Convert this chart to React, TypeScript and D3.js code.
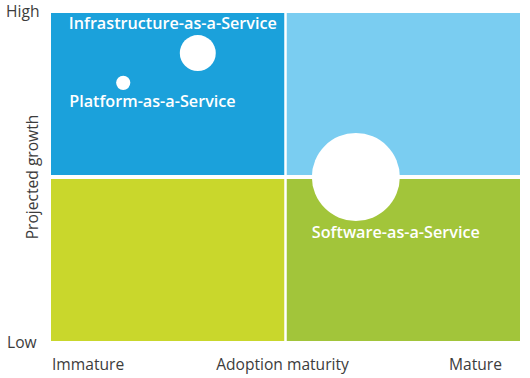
import React from "react";
import * as d3 from "d3";

const quadrants = [
  { col: 0, row: 1, color: "#1ba1db" },
  { col: 1, row: 1, color: "#7acdf1" },
  { col: 0, row: 0, color: "#c9d72c" },
  { col: 1, row: 0, color: "#a2c53a" },
];
const bubbleNames = ["Infrastructure-as-a-Service", "Platform-as-a-Service", "Software-as-a-Service"];
const bubbleMaturity = [0.313, 0.154, 0.65];
const bubbleGrowth = [0.878, 0.787, 0.5];
const bubbleSize = [16.7, 2.6, 100];
const yTickLabels = ["Low", "High"];
const xTickLabels = ["Immature", "Adoption maturity", "Mature"];
const yAxisTitle = "Projected growth";

const W = 530, H = 378;
const left = 51, right = 520, top = 13, bottom = 341;
const gapX = 2.5, gapY = 4;
// label offsets relative to bubble centre (layout)
const labelOffsets = [
  { dx: -129, dy: -24 },
  { dx: -54, dy: 24 },
  { dx: -44, dy: 61 },
];

export default function App() {
  const x = d3.scaleLinear().domain([0, 1]).range([left, right]);
  const y = d3.scaleLinear().domain([0, 1]).range([bottom, top]);
  const r = d3.scaleSqrt().domain([0, 100]).range([0, 44]);
  const font = "'Open Sans', 'Noto Sans', sans-serif";
  const textColor = "#3c3c3c";
  const axisSize = 15.6;

  return (
    <svg width={W} height={H} style={{ position: "absolute", left: 0, top: 0 }} fontFamily={font}>
      <rect width={W} height={H} fill="#fff" />
      {quadrants.map((q, i) => {
        const x0 = x(q.col * 0.5) + (q.col === 1 ? gapX / 2 : 0);
        const x1 = x(q.col * 0.5 + 0.5) - (q.col === 0 ? gapX / 2 : 0);
        const y0 = y(q.row * 0.5 + 0.5) + (q.row === 0 ? gapY / 2 : 0);
        const y1 = y(q.row * 0.5) - (q.row === 1 ? gapY / 2 : 0);
        return <rect key={i} x={x0} y={y0} width={x1 - x0} height={y1 - y0} fill={q.color} />;
      })}
      {bubbleNames.map((name, i) => (
        <circle key={name} cx={x(bubbleMaturity[i])} cy={y(bubbleGrowth[i])} r={r(bubbleSize[i])} fill="#fff" />
      ))}
      {bubbleNames.map((name, i) => (
        <text
          key={name + "l"}
          x={x(bubbleMaturity[i]) + labelOffsets[i].dx}
          y={y(bubbleGrowth[i]) + labelOffsets[i].dy}
          fill="#fff"
          fontSize={16.2}
          fontWeight={600}
        >
          {name}
        </text>
      ))}
      <text x={6} y={17} fontSize={axisSize} fill={textColor}>{yTickLabels[1]}</text>
      <text x={7} y={348} fontSize={axisSize} fill={textColor}>{yTickLabels[0]}</text>
      <text x={x(0) + 1} y={370} fontSize={axisSize} fill={textColor}>{xTickLabels[0]}</text>
      <text x={(216 + 349) / 2} y={370} fontSize={axisSize} fill={textColor} textAnchor="middle">{xTickLabels[1]}</text>
      <text x={502} y={370} fontSize={axisSize} fill={textColor} textAnchor="end">{xTickLabels[2]}</text>
      <text
        transform={`translate(38, ${y(0.5) + 0}) rotate(-90)`}
        fontSize={axisSize}
        fill={textColor}
        textAnchor="middle"
      >
        {yAxisTitle}
      </text>
    </svg>
  );
}
